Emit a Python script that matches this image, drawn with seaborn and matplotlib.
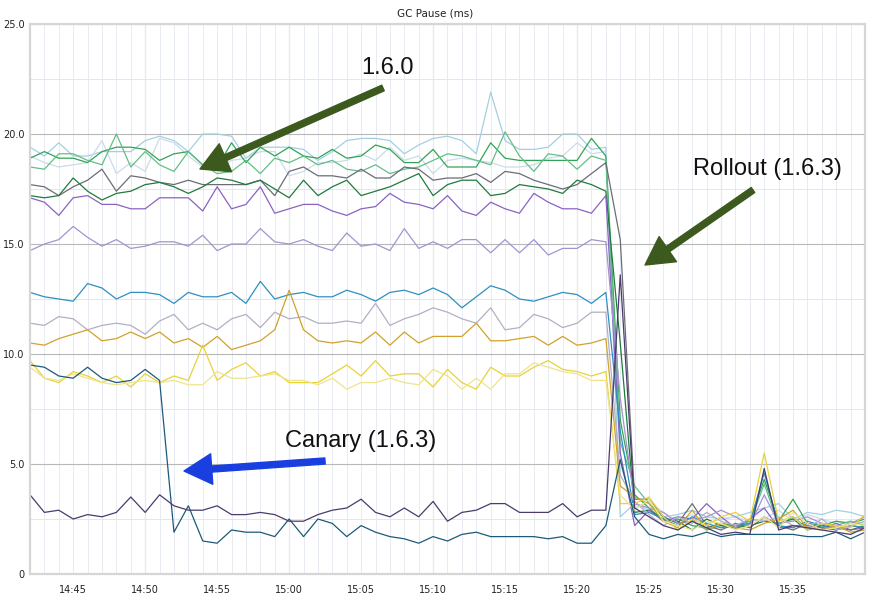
import pandas as pd
import matplotlib
matplotlib.use("Agg")
import matplotlib.pyplot as plt
import matplotlib.dates as mdates
import seaborn as sns

# one sample per minute, 14:42 .. 15:40
times = pd.date_range("2013-06-01 14:42", periods=59, freq="min")
tick_times = pd.date_range("2013-06-01 14:45", "2013-06-01 15:35", freq="5min")

# GC pause per host (ms)
lightblue = [19.4, 19.0, 19.6, 19.0, 19.0, 19.2, 19.2, 19.2, 19.7, 19.9, 19.7, 19.2, 20.0, 20.0, 19.9, 18.9, 19.4, 19.4, 19.4, 19.3, 18.8,
             19.2, 19.7, 19.8, 19.8, 19.7, 19.1, 19.5, 19.8, 19.9, 19.7, 19.1, 21.9, 19.7, 19.3, 19.3, 19.4, 20.0, 20.0, 19.3, 19.4,
             2.6,
             3.2, 2.9, 2.6, 2.7, 2.9, 2.6, 2.5, 2.6, 2.8, 3.0, 3.2, 2.5, 2.8, 2.7, 2.9, 2.8, 2.6]
green = [18.9, 19.2, 18.9, 18.9, 18.7, 19.2, 19.4, 19.4, 19.3, 18.8, 19.1, 19.2, 18.6, 18.5, 19.6, 18.7, 19.4, 19.0, 19.4, 19.0, 18.9,
         19.3, 18.9, 19.0, 19.5, 19.3, 18.7, 18.7, 19.3, 18.5, 18.5, 18.5, 19.6, 18.9, 18.8, 18.8, 18.8, 18.8, 18.8, 19.8, 19.0,
         7.0,
         3.6, 3.0, 2.4, 2.5, 2.2, 2.1, 2.3, 2.2, 2.4, 4.3, 2.4, 3.4, 2.3, 2.2, 2.4, 2.3, 2.5]
lightgreen = [18.5, 18.4, 19.1, 19.1, 18.8, 18.6, 20.0, 18.5, 19.2, 18.6, 18.3, 19.2, 18.6, 18.2, 18.3, 18.8, 18.2, 18.9, 18.7, 19.0, 18.6,
              18.8, 18.4, 18.3, 18.6, 18.2, 18.4, 18.5, 18.8, 19.1, 19.0, 18.8, 18.6, 20.1, 19.0, 18.3, 19.1, 19.0, 18.4, 19.0, 18.8,
              6.0,
              4.0, 3.2, 2.6, 2.3, 2.4, 2.0, 2.2, 2.1, 2.3, 4.1, 2.2, 2.6, 2.1, 2.3, 2.2, 2.4, 2.2]
paleblue = [19.0, 18.7, 18.5, 18.6, 18.7, 19.7, 18.2, 18.7, 18.3, 19.8, 19.6, 19.0, 18.5, 18.4, 18.8, 18.9, 19.2, 19.2, 18.1, 18.3, 18.7,
            18.7, 18.8, 19.1, 18.8, 19.4, 18.8, 19.0, 18.2, 18.8, 18.9, 18.8, 18.7, 18.5, 18.5, 18.6, 18.9, 19.0, 19.6, 19.1, 19.2,
            5.0,
            3.0, 3.3, 2.8, 2.4, 2.7, 2.3, 2.5, 2.6, 2.4, 2.5, 2.9, 2.4, 2.7, 2.5, 2.3, 2.4, 2.3]
darkgrey = [17.7, 17.6, 17.2, 17.6, 17.9, 18.4, 17.4, 18.1, 18.0, 17.8, 17.7, 17.9, 17.7, 17.7, 17.7, 17.7, 17.9, 17.2, 18.3, 18.5, 18.1,
            18.1, 18.0, 18.4, 18.0, 18.0, 18.5, 18.4, 17.9, 18.0, 18.0, 18.2, 17.8, 18.3, 18.2, 17.9, 17.7, 17.5, 17.7, 18.2, 18.7,
            15.2,
            3.4, 3.4, 2.6, 2.3, 3.2, 2.2, 2.0, 2.3, 2.1, 2.6, 2.2, 2.0, 2.3, 2.1, 2.0, 2.2, 2.1]
darkgreen = [17.2, 17.1, 17.2, 18.0, 17.4, 17.0, 17.3, 17.4, 17.7, 17.8, 17.6, 17.3, 17.6, 18.0, 17.9, 17.7, 17.9, 17.5, 17.1, 17.9, 17.2,
             17.6, 17.9, 17.2, 17.4, 17.6, 17.9, 18.2, 17.2, 17.7, 17.9, 17.9, 17.2, 17.3, 17.7, 17.6, 17.5, 17.3, 17.9, 17.7, 17.4,
             10.5,
             2.8, 2.9, 2.5, 2.4, 2.0, 2.5, 2.2, 2.1, 2.2, 2.4, 2.3, 2.5, 2.0, 2.2, 2.1, 2.0, 2.2]
purple = [17.1, 16.9, 16.3, 17.1, 17.2, 16.8, 16.8, 16.6, 16.6, 17.1, 17.1, 17.1, 16.5, 17.6, 16.6, 16.8, 17.6, 16.4, 16.6, 16.8, 16.8,
          16.5, 16.3, 16.6, 16.7, 17.3, 16.9, 16.8, 16.6, 17.2, 16.5, 16.3, 16.9, 16.6, 16.4, 17.3, 16.9, 16.6, 16.6, 16.4, 17.2,
          5.5,
          2.2, 2.9, 2.4, 2.6, 2.5, 3.2, 2.6, 2.1, 2.5, 3.0, 2.1, 2.2, 2.2, 2.1, 2.3, 2.0, 2.1]
lightpurple = [14.7, 15.0, 15.2, 15.8, 15.3, 14.9, 15.2, 14.8, 14.9, 15.1, 15.1, 14.9, 15.4, 14.7, 15.0, 15.0, 15.7, 15.1, 15.0, 15.2, 14.9,
               14.7, 15.5, 14.9, 15.0, 14.7, 15.7, 14.8, 15.1, 14.8, 15.2, 15.2, 14.6, 15.2, 14.6, 15.2, 14.5, 14.8, 14.8, 15.2, 15.1,
               8.0,
               3.2, 3.0, 2.8, 2.3, 2.4, 2.6, 2.9, 2.6, 2.2, 3.6, 2.3, 2.4, 2.6, 2.3, 2.1, 2.3, 2.6]
teal = [12.8, 12.6, 12.5, 12.4, 13.2, 13.0, 12.5, 12.8, 12.8, 12.7, 12.3, 12.8, 12.6, 12.6, 12.8, 12.3, 13.3, 12.5, 12.7, 12.8, 12.6,
        12.6, 12.9, 12.7, 12.4, 12.8, 12.9, 12.7, 13.0, 12.7, 12.1, 12.6, 13.1, 12.9, 12.5, 12.4, 12.6, 12.8, 12.7, 12.3, 12.8,
        6.5,
        2.7, 2.8, 2.5, 2.2, 2.6, 2.3, 2.1, 2.2, 2.3, 4.6, 2.2, 2.1, 2.4, 2.2, 2.0, 2.2, 2.1]
grey = [11.4, 11.3, 11.7, 11.6, 11.1, 11.3, 11.4, 11.3, 10.9, 11.5, 11.8, 11.1, 11.4, 11.1, 11.6, 11.8, 11.2, 11.9, 11.6, 11.7, 11.4,
        11.4, 11.5, 11.4, 12.3, 11.3, 11.6, 11.8, 12.1, 11.9, 11.6, 11.4, 12.1, 11.1, 11.2, 11.8, 11.6, 11.2, 11.4, 11.9, 11.9,
        4.5,
        3.3, 2.7, 2.2, 2.6, 2.3, 2.8, 2.4, 2.2, 2.5, 2.4, 2.6, 2.2, 2.1, 2.5, 2.0, 2.2, 2.4]
gold = [10.5, 10.4, 10.7, 10.9, 11.1, 10.6, 10.7, 11.0, 10.7, 11.0, 10.5, 10.7, 10.3, 10.8, 10.2, 10.4, 10.6, 11.1, 12.9, 11.1, 10.6,
        10.5, 10.6, 10.5, 11.0, 10.4, 11.0, 10.5, 10.8, 10.8, 10.8, 11.4, 10.6, 10.6, 10.7, 10.8, 10.4, 10.8, 10.4, 10.5, 10.7,
        4.0,
        3.5, 3.2, 2.4, 2.1, 2.9, 2.0, 2.3, 2.1, 2.0, 2.3, 2.5, 2.9, 2.1, 2.0, 2.2, 1.9, 2.0]
yellow = [9.7, 8.9, 8.7, 9.2, 9.0, 8.7, 9.0, 8.5, 9.1, 8.7, 9.0, 8.8, 10.4, 8.8, 9.3, 9.6, 9.0, 9.2, 8.7, 8.7, 8.7,
          9.1, 9.5, 9.0, 9.7, 9.0, 9.1, 9.1, 8.5, 9.3, 8.7, 8.4, 9.4, 9.0, 9.0, 9.4, 9.7, 9.3, 9.2, 9.0, 9.2,
          3.2,
          3.2, 3.5, 2.6, 2.0, 2.5, 2.2, 2.6, 2.8, 2.4, 5.5, 2.4, 2.6, 2.0, 2.3, 2.2, 2.1, 2.7]
paleyellow = [9.4, 8.9, 8.8, 9.1, 8.9, 8.7, 8.6, 8.7, 8.8, 8.7, 8.8, 8.6, 8.6, 9.2, 8.9, 8.9, 9.0, 9.1, 8.8, 8.8, 8.6,
              8.9, 8.4, 8.7, 8.7, 8.9, 8.7, 8.6, 9.3, 9.0, 8.4, 8.9, 8.4, 9.1, 9.1, 9.6, 9.4, 9.2, 9.1, 8.8, 8.8,
              3.6,
              2.9, 3.4, 2.4, 2.2, 2.0, 2.4, 2.3, 2.0, 2.2, 2.6, 2.1, 2.8, 2.3, 2.0, 2.1, 2.3, 2.2]
canary = [9.5, 9.4, 9.0, 8.9, 9.4, 8.9, 8.7, 8.8, 9.3, 8.8,
          1.9, 3.1, 1.5, 1.4, 2.0, 1.9, 1.9, 1.7, 2.5, 1.7,
          2.5, 2.3, 1.7, 2.2, 1.9, 1.7, 1.6, 1.4, 1.7, 1.5,
          1.8, 1.9, 1.7, 1.7, 1.7, 1.7, 1.6, 1.7, 1.4, 1.4, 2.2,
          5.2,
          2.6, 1.8, 1.6, 1.8, 1.7, 1.9, 1.7, 1.8, 1.8, 1.8, 1.8, 1.8, 1.7, 1.7, 1.9, 1.6, 1.9]
darkpurple = [3.6, 2.8, 2.9, 2.5, 2.7, 2.6, 2.8, 3.5, 2.8, 3.6,
              3.1, 2.9, 2.9, 3.1, 2.7, 2.7, 2.8, 2.7, 2.4, 2.4,
              2.7, 2.9, 3.0, 3.4, 2.8, 2.6, 3.0, 2.6, 3.3, 2.4,
              2.8, 2.9, 3.2, 3.2, 2.8, 2.8, 2.8, 3.2, 2.6, 2.9, 2.9,
              13.6,
              3.0, 2.6, 2.2, 2.0, 2.4, 2.1, 1.8, 1.9, 1.8, 4.8, 2.0, 2.2, 2.1, 2.0, 1.9, 1.8, 2.1]

series = {
    "lightblue": lightblue, "paleblue": paleblue, "green": green, "lightgreen": lightgreen,
    "darkgrey": darkgrey, "darkgreen": darkgreen, "purple": purple, "lightpurple": lightpurple,
    "teal": teal, "grey": grey, "gold": gold, "yellow": yellow, "paleyellow": paleyellow,
    "canary": canary, "darkpurple": darkpurple,
}
colors = {
    "lightblue": "#a4cfe2", "paleblue": "#cbdbe9", "green": "#33a357", "lightgreen": "#62bf86",
    "darkgrey": "#6c6c76", "darkgreen": "#1f7a3c", "purple": "#8a63c0", "lightpurple": "#a593d0",
    "teal": "#2e8fc0", "grey": "#b0b0c4", "gold": "#d1a22a", "yellow": "#e8d23a", "paleyellow": "#efe48a",
    "canary": "#1d5a7a", "darkpurple": "#4a3a6e",
}

df = pd.concat([pd.DataFrame({"time": times, "ms": v, "host": k}) for k, v in series.items()])

sns.set_style("white")
plt.rcParams['font.family'] = ['DejaVu Sans']

fig = plt.figure(figsize=(8.7, 6), dpi=100)
ax = fig.add_axes([30 / 870, 26 / 600, 835 / 870, 550 / 600])

# grid
ax.set_ylim(0, 25)
ax.set_xlim(times[0], times[-1])
ax.set_yticks([0, 5, 10, 15, 20, 25])
ax.set_yticklabels(["0", "5.0", "10.0", "15.0", "20.0", "25.0"])
ax.set_yticks([2.5, 7.5, 12.5, 17.5, 22.5], minor=True)
ax.set_xticks(tick_times)
ax.xaxis.set_major_formatter(mdates.DateFormatter("%H:%M"))
ax.xaxis.set_minor_locator(mdates.MinuteLocator())
ax.xaxis.remove_overlapping_locs = False
ax.grid(axis="y", which="major", color="#b8b8b8", lw=0.8)
ax.grid(axis="y", which="minor", color="#e6e6e6", lw=0.7)
ax.grid(axis="x", which="minor", color="#e8ecf2", lw=0.7)
ax.grid(axis="x", which="major", visible=False)
for t in pd.date_range("2013-06-01 14:50", "2013-06-01 15:30", freq="10min"):
    ax.axvline(t, color="#b8bcc4", lw=0.8, zorder=0.5)
ax.set_axisbelow(True)

sns.lineplot(data=df, x="time", y="ms", hue="host", palette=colors, lw=0.9,
             legend=False, errorbar=None, ax=ax)
ax.set_xlabel("")
ax.set_ylabel("")

ax.tick_params(axis="both", which="both", length=0, labelsize=7, colors="#222222")
ax.tick_params(axis="x", pad=8)
ax.tick_params(axis="y", pad=4)
for s in ax.spines.values():
    s.set_color("#d6d6d6")
    s.set_linewidth(1.6)

fig.text(0.5, 1 - 13 / 600, "GC Pause (ms)", ha="center", va="center", fontsize=7.5, color="#222222")


def frac(px, py):
    return ((px - 30) / 835, (574 - py) / 550)


notes = [
    ("1.6.0", (388, 68), (383, 88), (200, 169), "#3c5a1e"),
    ("Rollout (1.6.3)", (767, 169), (753, 190), (645, 265), "#3c5a1e"),
    ("Canary (1.6.3)", (361, 441), (325, 461), (184, 471), "#1a3fe0"),
]
for label, pos, tail, tip, col in notes:
    ax.text(*frac(*pos), label, transform=ax.transAxes, ha="center", va="center",
            fontsize=17, family="Liberation Sans", color="#111111")
    ax.annotate("", xy=frac(*tip), xytext=frac(*tail), xycoords="axes fraction",
                arrowprops=dict(arrowstyle="simple,head_width=1.1,head_length=1.0,tail_width=0.22",
                                mutation_scale=20, color=col, shrinkA=0, shrinkB=0))

fig.savefig("out.png", dpi=100)
